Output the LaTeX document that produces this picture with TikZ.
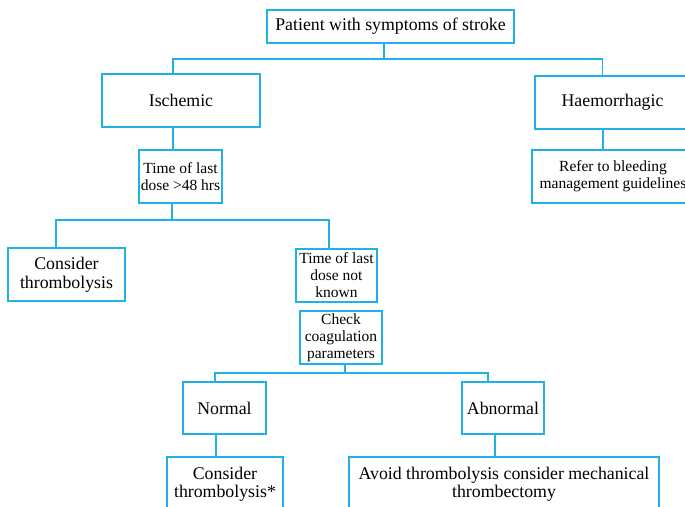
\documentclass[tikz,border=0pt]{standalone}
\usepackage{fontspec}
\setmainfont{Liberation Serif}
\definecolor{flowblue}{RGB}{30,178,230}
\tikzset{
  box/.style={draw=flowblue, line width=1.6pt, inner sep=0pt, align=center,
    font=\fontsize{17.8}{18.5}\selectfont},
  smallbox/.style={box, font=\fontsize{15.5}{17}\selectfont},
  link/.style={draw=flowblue, line width=1.6pt}
}
\begin{document}
\begin{tikzpicture}[x=1pt,y=-1pt]
  \clip (0,0) rectangle (685,506);
  \node[box, minimum width=247, minimum height=33] (stroke) at (390.5,26.5) {Patient with symptoms of stroke};
  \node[box, minimum width=158, minimum height=53] (isch) at (181,100.5) {Ischemic};
  \node[box, minimum width=155, minimum height=53] (haem) at (612.5,102.5) {Haemorrhagic};
  \node[smallbox, minimum width=83, minimum height=53] (t48) at (180.5,176.5) {Time of last\\dose >48 hrs};
  \node[smallbox, minimum width=162, minimum height=53] (refer) at (613,176.5) {Refer to bleeding\\management guidelines};
  \node[box, minimum width=117, minimum height=53] (cons1) at (66.5,274.5) {Consider\\thrombolysis};
  \node[smallbox, minimum width=81, minimum height=53] (tunk) at (336.5,275.5) {Time of last\\dose not\\known};
  \node[smallbox, minimum width=82, minimum height=53] (check) at (341,337.5) {Check\\coagulation\\parameters};
  \node[box, minimum width=83, minimum height=52] (normal) at (224.5,408) {Normal};
  \node[box, minimum width=82, minimum height=52] (abn) at (503,408) {Abnormal};
  \node[box, minimum width=116, minimum height=54] (cons2) at (225,484) {Consider\\thrombolysis*};
  \node[box, minimum width=310, minimum height=54] (avoid) at (504,484) {Avoid thrombolysis consider mechanical\\thrombectomy};
  \begin{scope}[link]
    \draw ([xshift=-6.5]stroke.south) -- ++(0,15) coordinate (s1);
    \draw ([xshift=-8]isch.north) |- (s1) -| ([xshift=-10]haem.north);
    \draw ([xshift=-8]isch.south) -- ([xshift=-7.5]t48.north);
    \draw ([xshift=-9.5]haem.south) -- ([xshift=-10]refer.north);
    \draw ([xshift=-8.5]t48.south) -- ++(0,16) coordinate (s2);
    \draw ([xshift=-10.5]cons1.north) |- (s2) -| ([xshift=-7.5]tunk.north);
    \draw ([xshift=4]check.south) -- ++(0,8) coordinate (s3);
    \draw ([xshift=-9.5]normal.north) |- (s3) -| ([xshift=-15]abn.north);
    \draw ([xshift=-8.5]normal.south) -- ([xshift=-9]cons2.north);
    \draw ([xshift=-8]abn.south) -- ([xshift=-9]avoid.north);
  \end{scope}
\end{tikzpicture}
\end{document}
